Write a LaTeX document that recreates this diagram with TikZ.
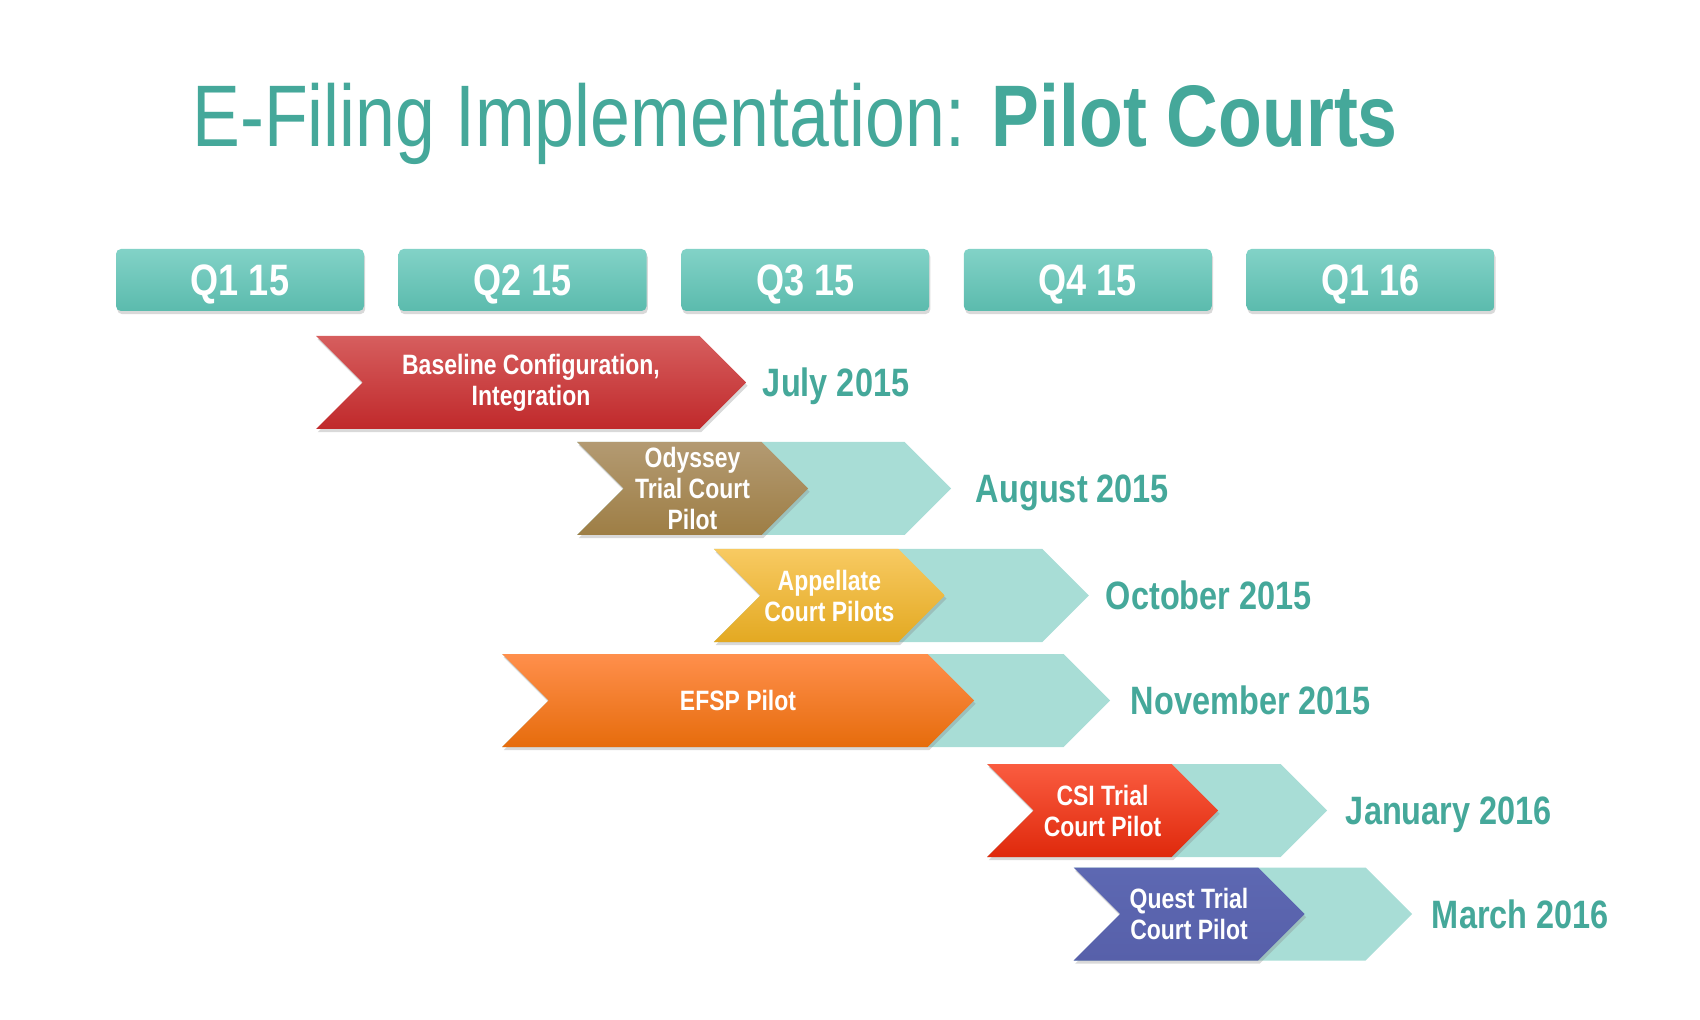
\documentclass[tikz,border=0pt]{standalone}
\usepackage{fontspec}
\newfontfamily\narrowsans{Liberation Sans}[FakeStretch=0.82]
\usepackage{tikz}
\usetikzlibrary{positioning, shapes.symbols, shadows}
\definecolor{titleteal}{HTML}{45A89A}
\definecolor{qtop}{HTML}{82D2C7}
\definecolor{qbottom}{HTML}{5BBBAD}
\definecolor{palete}{HTML}{A8DDD6}
\definecolor{redtop}{HTML}{D65E5E}
\definecolor{redbottom}{HTML}{C0292B}
\definecolor{browntop}{HTML}{B39A72}
\definecolor{brownbottom}{HTML}{9E7E45}
\definecolor{yellowtop}{HTML}{F8CA62}
\definecolor{yellowbottom}{HTML}{E3A922}
\definecolor{orangetop}{HTML}{FF8F4C}
\definecolor{orangebottom}{HTML}{E66C0C}
\definecolor{csitop}{HTML}{FA5C40}
\definecolor{csibottom}{HTML}{DF290C}
\definecolor{questtop}{HTML}{5D68B2}
\definecolor{questbottom}{HTML}{5760AA}
\tikzset{
    qnode/.style = {rectangle, rounded corners=2.5pt, minimum width=124pt, minimum height=31pt, 
      top color=qtop, bottom color=qbottom, text=white, node distance=0em, inner sep=0pt, 
      text height=16pt, text depth=0pt, font=\narrowsans\bfseries\fontsize{22}{24}\selectfont, 
      drop shadow={shadow xshift=0.6pt, shadow yshift=-1.6pt, opacity=0.3}},
    chevron/.style = {signal, signal from=west, signal to=east, minimum height=46.5pt, inner sep=0pt, 
      text=white, align=center, node distance=0em, font=\narrowsans\bfseries\fontsize{14}{15.5}\selectfont, 
      drop shadow={shadow xshift=0.8pt, shadow yshift=-1.6pt, opacity=0.3}},
    tailnode/.style = {signal, signal from=west, signal to=east, minimum height=46.5pt, inner sep=0pt, 
      fill=palete, draw=none, node distance=0em},
    textnode/.style = {draw=none, fill=none, rectangle, inner sep=0pt, node distance=0em},
    datenode/.style = {textnode, text=titleteal, text height=14pt, text depth=0pt, 
      font=\narrowsans\bfseries\fontsize{19.8}{22}\selectfont}
}

\begin{document}
\begin{tikzpicture}
    \useasboundingbox (0,0) rectangle (850pt,-510pt);

    \node [name=title, textnode, anchor=base west, text=titleteal, 
        font=\narrowsans\fontsize{43.7}{50}\selectfont] at (96pt,-73.5pt) 
        {E-Filing Implementation: \textbf{Pilot Courts}};

    \node [name=q1, qnode] at (120pt,-140pt) {Q1 15};
    \node [name=q2, qnode, right of = q1, xshift=141.3pt] {Q2 15};
    \node [name=q3, qnode, right of = q2, xshift=141.3pt] {Q3 15};
    \node [name=q4, qnode, right of = q3, xshift=141.3pt] {Q4 15};
    \node [name=q5, qnode, right of = q4, xshift=141.3pt] {Q1 16};

    \node [name=baseline, chevron, minimum width=215pt, top color=redtop, bottom color=redbottom, 
        right of = q1, xshift=145.5pt, yshift=-51.25pt] {Baseline Configuration,\\Integration};
    \node [name=july, datenode, right=8pt of baseline.east] {July 2015};

    \node [name=odysseytail, tailnode, minimum width=187pt, right of = q1, xshift=262pt, yshift=-104.25pt] {};
    \node [name=odyssey, chevron, minimum width=115.5pt, top color=browntop, bottom color=brownbottom, 
        right of = odysseytail, xshift=-35.75pt] {Odyssey\\Trial Court\\Pilot};
    \node [name=august, datenode, right=12pt of odysseytail.east] {August 2015};

    \node [name=appellatetail, tailnode, minimum width=187.5pt, right of = q1, xshift=330.7pt, yshift=-157.75pt] {};
    \node [name=appellate, chevron, minimum width=115.5pt, top color=yellowtop, bottom color=yellowbottom, 
        right of = appellatetail, xshift=-36pt] {Appellate\\Court Pilots};
    \node [name=october, datenode, right=8pt of appellatetail.east] {October 2015};

    \node [name=efsptail, tailnode, minimum width=304pt, right of = q1, xshift=283pt, yshift=-210.25pt] {};
    \node [name=efsp, chevron, minimum width=236pt, top color=orangetop, bottom color=orangebottom, 
        right of = efsptail, xshift=-34pt] {EFSP Pilot};
    \node [name=november, datenode, right=10pt of efsptail.east] {November 2015};

    \node [name=csitail, tailnode, minimum width=170pt, right of = q1, xshift=458.5pt, yshift=-265.25pt] {};
    \node [name=csi, chevron, minimum width=115.5pt, top color=csitop, bottom color=csibottom, 
        right of = csitail, xshift=-27.25pt] {CSI Trial\\Court Pilot};
    \node [name=january, datenode, right=9pt of csitail.east] {January 2016};

    \node [name=questtail, tailnode, minimum width=169pt, right of = q1, xshift=501.5pt, yshift=-317pt] {};
    \node [name=quest, chevron, minimum width=115.5pt, top color=questtop, bottom color=questbottom, 
        right of = questtail, xshift=-27pt] {Quest Trial\\Court Pilot};
    \node [name=march, datenode, right=9.5pt of questtail.east] {March 2016};
\end{tikzpicture}
\end{document}
